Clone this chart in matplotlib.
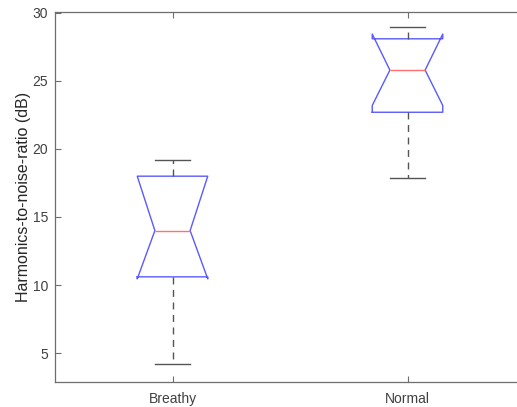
import matplotlib
matplotlib.use('Agg')
import matplotlib.pyplot as plt

# box statistics (dB)
groups = ['Breathy', 'Normal']
medians = [14.0, 25.8]
q1s = [10.6, 22.7]
q3s = [18.0, 28.1]
whis_lo = [4.2, 17.85]
whis_hi = [19.2, 29.0]
notch_lo = [10.45, 23.2]
notch_hi = [18.0, 28.45]
yticks = [5, 10, 15, 20, 25, 30]

plt.rcParams['font.family'] = ['Liberation Sans', 'DejaVu Sans']

stats = []
for i, g in enumerate(groups):
    stats.append({'label': g, 'med': medians[i], 'q1': q1s[i], 'q3': q3s[i],
                  'whislo': whis_lo[i], 'whishi': whis_hi[i],
                  'cilo': notch_lo[i], 'cihi': notch_hi[i], 'fliers': []})

fig = plt.figure(figsize=(5.17, 4.07), dpi=100)
ax = fig.add_axes([55 / 517, 25 / 407, 470 / 517, 370 / 407])

ax.bxp(stats, positions=[1, 2], widths=0.3, shownotches=True, showfliers=False,
       boxprops=dict(color='#5a5aff', linewidth=1.0),
       medianprops=dict(color='#ff7070', linewidth=1.0),
       whiskerprops=dict(color='#555555', linewidth=1.0, linestyle=(0, (5, 4))),
       capprops=dict(color='#555555', linewidth=1.0))

ax.set_xlim(0.5, 2.5)
ax.set_ylim(2.87, 30.07)
ax.set_yticks(yticks)
ax.set_xticks([1, 2])
ax.set_xticklabels(groups)
ax.set_ylabel('Harmonics-to-noise-ratio (dB)', fontsize=11.5, color='#262626',
              labelpad=1)

for s in ax.spines.values():
    s.set_color('#6e6e6e')
    s.set_linewidth(0.9)
ax.tick_params(direction='in', length=4, width=0.8, colors='#6e6e6e',
               labelcolor='#404040', labelsize=10, top=True, right=True)
ax.tick_params(axis='x', pad=7.5)
ax.tick_params(axis='y', pad=5)

fig.savefig('out.png', dpi=100)
